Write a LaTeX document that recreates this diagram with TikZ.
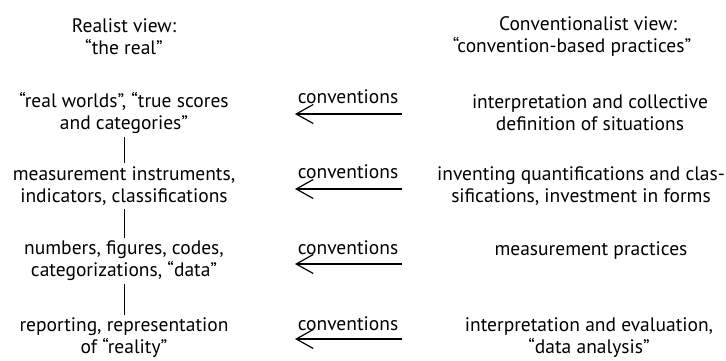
\documentclass[tikz,border=0pt]{standalone}
\usepackage{fontspec}
\setmainfont{PT Sans}
\usetikzlibrary{arrows.meta}
\tikzset{
  txt/.style={align=center, inner sep=0pt, font=\fontsize{19.5}{22}\selectfont},
  conv/.style={inner sep=0pt, font=\fontsize{19.5}{22}\selectfont},
  link/.style={line width=0.9pt},
  backarrow/.style={line width=1.2pt, -{Straight Barb[length=17pt,width=19pt,line width=1.2pt]}}
}
\begin{document}
\begin{tikzpicture}[x=1pt,y=-1pt]
\useasboundingbox (0,0) rectangle (726,360);
% headers
\node[txt] (hl) at (124,37) {Realist view:\\“the real”};
\node[txt] (hr) at (588,37) {Conventionalist view:\\“convention-based practices”\hspace*{32pt}};
% left column
\node[txt] (l1) at (124,113) {“real worlds”, “true scores\\and categories”};
\node[txt] (l2) at (124,186) {measurement instruments,\\indicators, classifications};
\node[txt] (l3) at (124,261) {numbers, figures, codes,\\categorizations, “data”};
\node[txt] (l4) at (124,338) {reporting, representation\\of “reality”};
% right column
\node[txt] (r1) at (590,113) {interpretation and collective\\definition of situations};
\node[txt] (r2) at (581,186) {inventing quantifications and clas-\\sifications, investment in forms};
\node[txt] (r3) at (591,251) {measurement practices};
\node[txt] (r4) at (589,338) {interpretation and evaluation,\\“data analysis”};
% conventions labels
\node[conv] (c1) at (348,97) {conventions};
\node[conv] (c2) at (348,172) {conventions};
\node[conv] (c3) at (348,248) {conventions};
\node[conv] (c4) at (348,324) {conventions};
% arrow ends
\coordinate (a1s) at (402,114); \coordinate (a1e) at (295,114);
\coordinate (a2s) at (402,189); \coordinate (a2e) at (295,189);
\coordinate (a3s) at (402,264); \coordinate (a3e) at (295,264);
\coordinate (a4s) at (402,339); \coordinate (a4e) at (295,339);
\draw[backarrow] (a1s) -- (a1e);
\draw[backarrow] (a2s) -- (a2e);
\draw[backarrow] (a3s) -- (a3e);
\draw[backarrow] (a4s) -- (a4e);
% vertical links
\draw[link] ([yshift=-3pt]l1.south) -- ([yshift=3pt]l2.north);
\draw[link] ([yshift=-3pt]l2.south) -- ([yshift=3pt]l3.north);
\draw[link] ([yshift=-3pt]l3.south) -- ([yshift=3pt]l4.north);
\end{tikzpicture}
\end{document}
